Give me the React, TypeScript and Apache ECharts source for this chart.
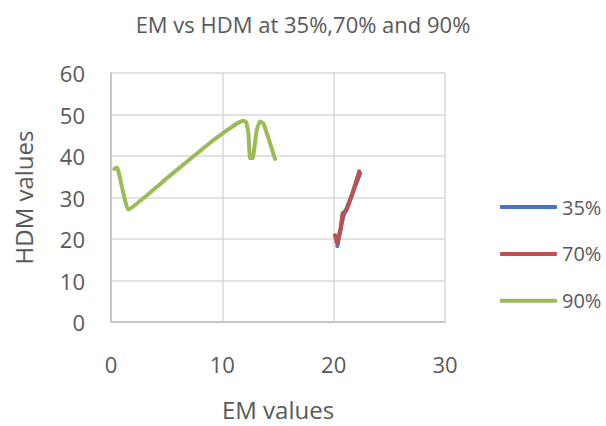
import React, { useEffect, useRef } from "react";
import * as echarts from "echarts";

const seriesNames = ["35%", "70%", "90%"];
const colors = ["#4472C4", "#C0504D", "#9BBB59"];

const em35 = [20.33, 20.6, 20.87, 21.4, 22.37];
const hdm35 = [18.3, 22.0, 25.5, 28.9, 35.8];

const em70 = [20.12, 20.27, 20.63, 20.81, 21.11, 21.7, 22.3];
const hdm70 = [20.9, 18.9, 22.7, 26.3, 26.7, 31.2, 36.3];

const em90 = [0.3, 0.55, 1.55, 5.0, 8.9, 10.0, 10.8, 11.3, 11.9, 12.15, 12.34, 12.49, 12.73, 13.09, 13.38, 13.68, 14.2, 14.73];
const hdm90 = [36.9, 37.2, 27.1, 34.6, 43.2, 45.4, 46.9, 47.8, 48.5, 48.1, 45.5, 39.5, 39.5, 46.3, 48.3, 47.9, 43.8, 39.3];

const xTicks = [0, 10, 20, 30];
const yTicks = [0, 10, 20, 30, 40, 50, 60];

const FONT = "Open Sans";
const TEXT = "#595959";

function pairs(xs: number[], ys: number[]) {
  return xs.map((x, i) => [x, ys[i]]);
}

export default function App() {
  const ref = useRef<HTMLDivElement>(null);
  useEffect(() => {
    if (!ref.current) return;
    const chart = echarts.init(ref.current, undefined, { renderer: "svg" });
    const data = [pairs(em35, hdm35), pairs(em70, hdm70), pairs(em90, hdm90)];
    chart.setOption({
      animation: false,
      backgroundColor: "#ffffff",
      textStyle: { fontFamily: FONT },
      title: {
        text: "EM vs HDM at 35%,70% and 90%",
        left: "center",
        top: 8,
        textStyle: { fontFamily: FONT, fontSize: 22, fontWeight: "normal", color: TEXT },
      },
      grid: { left: 111, top: 73, right: 161, bottom: 103, containLabel: false },
      legend: {
        orient: "vertical",
        left: 495,
        top: 192,
        itemWidth: 57,
        itemHeight: 4,
        itemGap: 26.9,
        icon: "roundRect",
        data: seriesNames,
        textStyle: { fontFamily: FONT, fontSize: 20, color: TEXT, lineHeight: 20 },
      },
      xAxis: {
        type: "value",
        min: xTicks[0],
        max: xTicks[xTicks.length - 1],
        interval: 10,
        name: "EM values",
        nameLocation: "middle",
        nameGap: 75,
        nameTextStyle: { fontFamily: FONT, fontSize: 24, color: TEXT },
        axisLine: { show: true, lineStyle: { color: "#BFBFBF", width: 1.5 } },
        axisTick: { show: false },
        axisLabel: { fontFamily: FONT, fontSize: 22, color: TEXT, margin: 31 },
        splitLine: { show: true, lineStyle: { color: "#D9D9D9", width: 1.5 } },
      },
      yAxis: {
        type: "value",
        min: yTicks[0],
        max: yTicks[yTicks.length - 1],
        interval: 10,
        name: "HDM values",
        nameLocation: "middle",
        nameRotate: 90,
        nameGap: 76,
        nameTextStyle: { fontFamily: FONT, fontSize: 24, color: TEXT },
        axisLine: { show: true, lineStyle: { color: "#BFBFBF", width: 1.5 } },
        axisTick: { show: false },
        axisLabel: { fontFamily: FONT, fontSize: 22, color: TEXT, margin: 26 },
        splitLine: { show: true, lineStyle: { color: "#D9D9D9", width: 1.5 } },
      },
      series: seriesNames.map((name, i) => ({
        name,
        type: "line",
        data: data[i],
        smooth: 0.1,
        symbol: "none",
        color: colors[i],
        lineStyle: { color: colors[i], width: 4, cap: "round", join: "round" },
        itemStyle: { color: colors[i] },
      })),
    });
    return () => chart.dispose();
  }, []);
  return (
    <div
      ref={ref}
      style={{ position: "fixed", left: 0, top: 0, width: 606, height: 426 }}
    />
  );
}
